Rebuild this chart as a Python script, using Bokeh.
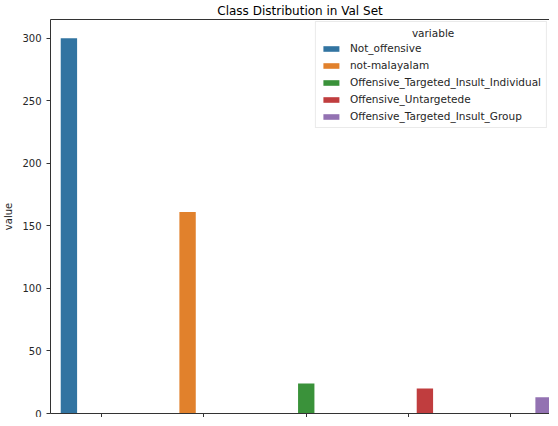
from bokeh.plotting import figure
from bokeh.models import Range1d, FixedTicker, Legend, LegendItem, LinearAxis, Label
from bokeh.embed import file_html
from bokeh.resources import INLINE

# ---- data ----
categories = ["Not_offensive", "not-malayalam", "Offensive_Targeted_Insult_Individual",
              "Offensive_Untargetede", "Offensive_Targeted_Insult_Group"]
values = [300, 161, 24, 20, 13]
colors = ["#3274a1", "#e1812c", "#3a923a", "#c03d3e", "#9372b2"]
y_ticks = [0, 50, 100, 150, 200, 250, 300]
legend_title = "variable"

n = len(categories)
bar_w = 0.8 / n
positions = [i + (i - (n - 1) / 2) * bar_w for i in range(n)]

FONT = "DejaVu Sans"
TXT = "#262626"

p = figure(frame_width=499, frame_height=394, output_backend="svg", toolbar_location=None,
           x_range=Range1d(-0.5, 4.378), y_range=Range1d(0, 315),
           min_border_left=42, min_border_right=0, min_border_top=0, min_border_bottom=0,
           x_axis_location=None, y_axis_location=None)
p.title.text = "Class Distribution in Val Set"
p.title.align = "center"
p.title.text_font = FONT
p.title.text_font_size = "12px"
p.title.text_font_style = "normal"
p.title.text_color = "#000000"
p.title.standoff = 3
p.title.offset = 5
p.outline_line_color = None
p.xgrid.visible = False
p.ygrid.visible = False
p.background_fill_color = "white"
p.border_fill_color = "white"

renderers = []
for i in range(n):
    r = p.vbar(x=[positions[i]], top=[values[i]], width=bar_w, bottom=0,
               fill_color=colors[i], line_color=None)
    renderers.append(r)

# axes
yax = LinearAxis(ticker=FixedTicker(ticks=y_ticks), axis_label="value")
yax.major_label_text_font = FONT
yax.major_label_text_font_size = "10px"
yax.major_label_text_color = TXT
yax.axis_label_text_font = FONT
yax.axis_label_text_font_size = "10px"
yax.axis_label_text_font_style = "normal"
yax.axis_label_text_color = TXT
yax.axis_label_standoff = 5
yax.major_tick_out = 4
yax.major_tick_in = 0
yax.minor_tick_line_color = None
yax.axis_line_color = "#333333"
yax.major_tick_line_color = "#333333"
p.add_layout(yax, "left")

xax = LinearAxis(ticker=FixedTicker(ticks=list(range(n))))
xax.major_label_overrides = {i: "" for i in range(n)}
xax.major_label_text_font_size = "4px"
xax.major_label_standoff = 0
xax.major_tick_out = 4
xax.major_tick_in = 0
xax.minor_tick_line_color = None
xax.axis_line_color = "#333333"
xax.major_tick_line_color = "#333333"
p.add_layout(xax, "below")

top = LinearAxis(ticker=FixedTicker(ticks=[]))
top.major_label_text_font_size = "0px"
top.major_tick_line_color = None
top.minor_tick_line_color = None
top.axis_line_color = "#333333"
top.major_label_standoff = 0
p.add_layout(top, "above")

legend = Legend(items=[LegendItem(label=categories[i], renderers=[renderers[i]]) for i in range(n)],
                location="top_right")
legend.title = " "
legend.title_text_font = FONT
legend.title_text_font_size = "10.5px"
legend.title_standoff = 3
legend.label_text_font = FONT
legend.label_text_font_size = "10.5px"
legend.label_text_color = TXT
legend.glyph_width = 20
legend.glyph_height = 7
legend.label_height = 12
legend.label_standoff = 9
legend.spacing = 5
legend.padding = 5
legend.margin = 2
legend.border_line_color = "#d6d6d6"
legend.background_fill_alpha = 0
p.add_layout(legend)

title_lbl = Label(x=3.24, y=304.5, text=legend_title, text_align="center", text_baseline="middle",
                  text_font=FONT, text_font_size="10.5px", text_color=TXT, level="overlay")
p.add_layout(title_lbl)

open("out.html", "w").write(file_html(p, INLINE))
